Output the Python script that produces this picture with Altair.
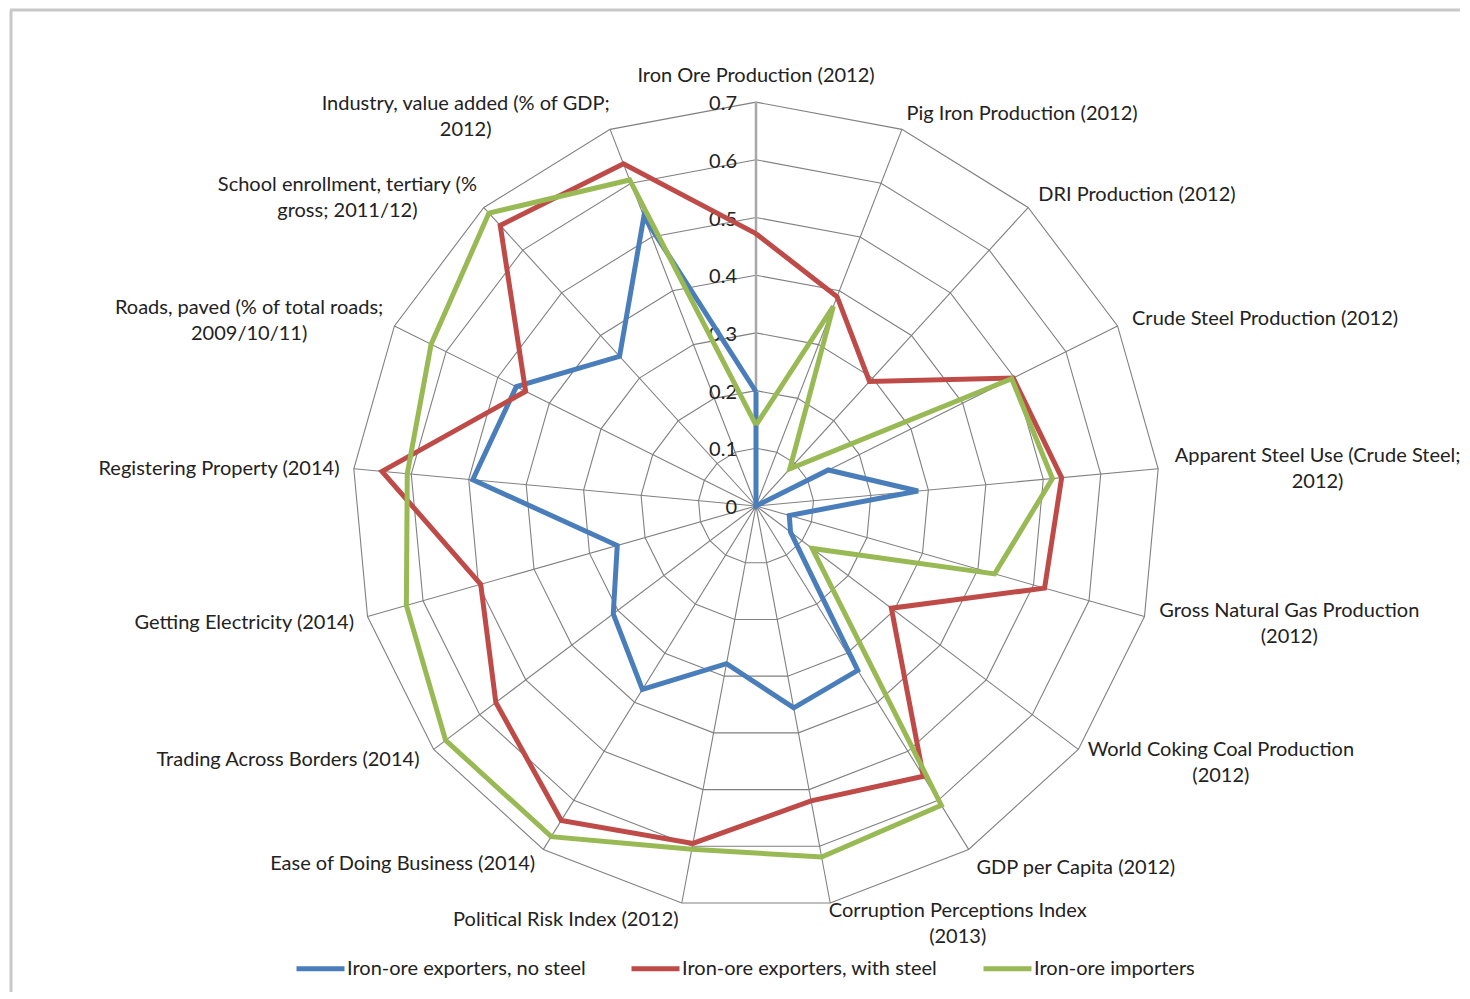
import math
import altair as alt
import pandas as pd

# ---------------- data ----------------
categories = [
    "Iron Ore Production (2012)",
    "Pig Iron Production (2012)",
    "DRI Production (2012)",
    "Crude Steel Production (2012)",
    "Apparent Steel Use (Crude Steel;\n2012)",
    "Gross Natural Gas Production\n(2012)",
    "World Coking Coal Production\n(2012)",
    "GDP per Capita (2012)",
    "Corruption Perceptions Index\n(2013)",
    "Political Risk Index (2012)",
    "Ease of Doing Business (2014)",
    "Trading Across Borders (2014)",
    "Getting Electricity (2014)",
    "Registering Property (2014)",
    "Roads, paved (% of total roads;\n2009/10/11)",
    "School enrollment, tertiary (%\ngross; 2011/12)",
    "Industry, value added (% of GDP;\n2012)",
]
series_names = ["Iron-ore exporters, no steel", "Iron-ore exporters, with steel", "Iron-ore importers"]
no_steel = [0.198, 0.0, 0.0, 0.14, 0.282, 0.06, 0.075, 0.335, 0.356, 0.278, 0.374, 0.31, 0.25, 0.493, 0.464, 0.351, 0.538]
with_steel = [0.472, 0.389, 0.292, 0.498, 0.532, 0.52, 0.294, 0.551, 0.52, 0.595, 0.641, 0.565, 0.496, 0.651, 0.446, 0.658, 0.636]
importers = [0.14, 0.371, 0.087, 0.495, 0.516, 0.43, 0.122, 0.61, 0.619, 0.605, 0.674, 0.674, 0.63, 0.607, 0.629, 0.687, 0.606]
tick_values = [0, 0.1, 0.2, 0.3, 0.4, 0.5, 0.6, 0.7]
tick_labels = ["0", "0.1", "0.2", "0.3", "0.4", "0.5", "0.6", "0.7"]
colors = ["#4A7EBB", "#BE4B48", "#98B954"]

# ---------------- layout ----------------
W, H = 1452, 982          # view size
CX, CY = 748, 496         # centre of the radar in view pixels
PX = 577.0                # pixels per unit value
RMAX = 0.7
FONT = "Lato"
FS = 20
LH = 26


def text_width(s):
    """Rough width estimate (px) of a string in the label font."""
    narrow = {"i": .23, "l": .23, "j": .23, "I": .27, "t": .33, "f": .31, "r": .35,
              " ": .26, ".": .22, ",": .22, ";": .22, ":": .22, "(": .3, ")": .3,
              "/": .37, "%": .8, "m": .82, "w": .75, "W": .95, "-": .33}
    tot = 0.0
    for ch in s:
        if ch in narrow:
            tot += narrow[ch]
        elif ch.isdigit():
            tot += .58
        elif ch.isupper():
            tot += .64
        else:
            tot += .51
    return tot * FS


n = len(categories)
theta = [2 * math.pi * k / n for k in range(n)]

xdom = [-CX / PX, (W - CX) / PX]
ydom = [-(H - CY) / PX, CY / PX]
xs = alt.Scale(domain=xdom, nice=False, zero=False)
ys = alt.Scale(domain=ydom, nice=False, zero=False)

# rings
ring_rows = []
for r in tick_values[1:]:
    for i in range(n + 1):
        t = theta[i % n]
        ring_rows.append({"ring": r, "o": i, "x": r * math.sin(t), "y": r * math.cos(t)})
rings_df = pd.DataFrame(ring_rows)

# spokes
spoke_df = pd.DataFrame({
    "k": list(range(n)),
    "x0": [0.0] * n, "y0": [0.0] * n,
    "x2": [RMAX * math.sin(t) for t in theta],
    "y2": [RMAX * math.cos(t) for t in theta],
})

# series
rows = []
for name, vals in zip(series_names, [no_steel, with_steel, importers]):
    for i in range(n + 1):
        k = i % n
        v = vals[k]
        rows.append({"series": name, "o": i, "cat": categories[k].replace("\n", " "),
                     "value": v, "x": v * math.sin(theta[k]), "y": v * math.cos(theta[k])})
series_df = pd.DataFrame(rows)

# category labels
lab_rows = []
for k, txt in enumerate(categories):
    s, c = math.sin(theta[k]), math.cos(theta[k])
    rl = RMAX + (19 if s > 0.05 else 15) / PX
    px, py = rl * s, rl * c
    lines = txt.split("\n")
    wmax = max(text_width(line) for line in lines) / PX
    if abs(s) < 0.05:
        x, y = px, py + 11 / PX
    else:
        x = px + (wmax / 2 if s > 0 else -wmax / 2)
        y = py - 2 / PX + (len(lines) - 1) * (LH / 2) / PX
    lab_rows.append({"label": txt, "x": x, "y": y})
labels_df = pd.DataFrame(lab_rows)

ticks_df = pd.DataFrame({"t": tick_labels, "v": tick_values,
                         "x": [-19 / PX] * len(tick_values),
                         "y": [v - 2 / PX for v in tick_values]})

X = lambda f: alt.X(f, scale=xs, axis=None)
Y = lambda f: alt.Y(f, scale=ys, axis=None)

rings = alt.Chart(rings_df).mark_line(color="#808080", strokeWidth=1.1).encode(
    x=X("x:Q"), y=Y("y:Q"), detail="ring:N", order="o:Q")

spokes = alt.Chart(spoke_df).transform_filter("datum.k > 0").mark_rule(
    color="#808080", strokeWidth=1.1).encode(x=X("x0:Q"), y=Y("y0:Q"), x2="x2:Q", y2="y2:Q")

main_spoke = alt.Chart(spoke_df).transform_filter("datum.k == 0").mark_rule(
    color="#a8a8a8", strokeWidth=2.5).encode(x=X("x0:Q"), y=Y("y0:Q"), x2="x2:Q", y2="y2:Q")

tick_text = alt.Chart(ticks_df).mark_text(
    align="right", baseline="middle", font=FONT, fontSize=FS, color="#222222").encode(
    x=X("x:Q"), y=Y("y:Q"), text="t:N")

color_enc = alt.Color("series:N", scale=alt.Scale(domain=series_names, range=colors),
                      legend=alt.Legend(title=None, orient="none", legendX=286, legendY=932,
                                        direction="horizontal", symbolType="stroke",
                                        symbolSize=2304, symbolStrokeWidth=5,
                                        labelOffset=0, columnPadding=35, labelLimit=500,
                                        labelFont=FONT, labelFontSize=FS, labelColor="#222222",
                                        symbolOpacity=1))

series_layers = []
for name in series_names:
    series_layers.append(
        alt.Chart(series_df).transform_filter(alt.datum.series == name).mark_line(
            strokeWidth=5).encode(x=X("x:Q"), y=Y("y:Q"), color=color_enc, order="o:Q",
                                  tooltip=["series:N", "cat:N", "value:Q"]))

cat_text = alt.Chart(labels_df).mark_text(
    align="center", baseline="middle", font=FONT, fontSize=FS, color="#222222",
    lineBreak="\n", lineHeight=LH).encode(x=X("x:Q"), y=Y("y:Q"), text="label:N")

one = pd.DataFrame({"a": [0]})
border_top = alt.Chart(one).mark_rule(color="#c8c8c8", strokeWidth=3).encode(
    x=alt.value(2), x2=alt.value(W), y=alt.value(0))
border_left = alt.Chart(one).mark_rule(color="#c8c8c8", strokeWidth=3).encode(
    x=alt.value(3), y=alt.value(0), y2=alt.value(H))

chart = alt.layer(
    border_top, border_left, rings, spokes, main_spoke, tick_text,
    *series_layers, cat_text
).properties(width=W, height=H, padding=0, background="white").configure_view(stroke=None)

chart.save("out.html", embed_options={"renderer": "svg", "actions": False})
